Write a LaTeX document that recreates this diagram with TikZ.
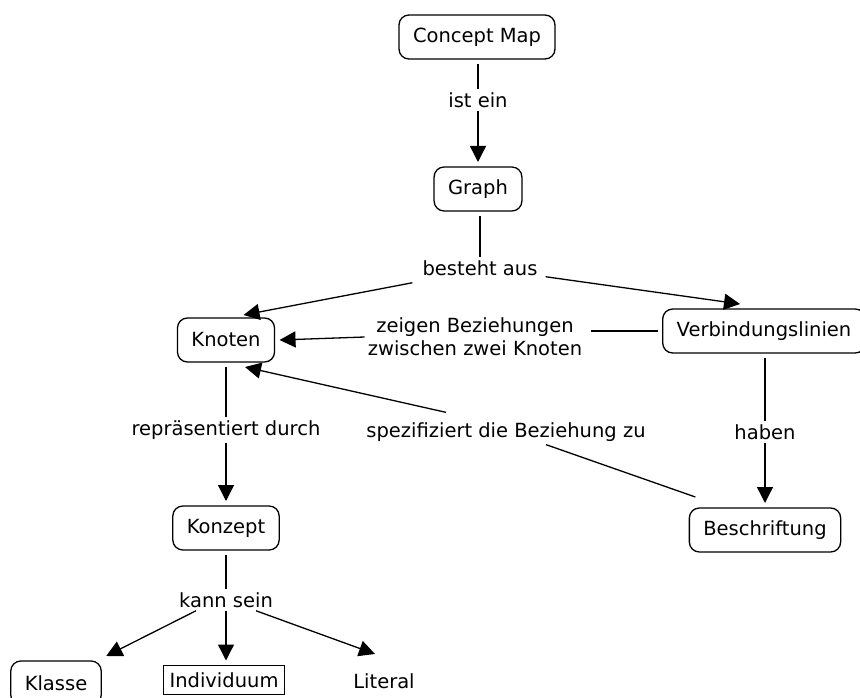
\documentclass[tikz,border=0pt]{standalone}
\usepackage{fontspec}
\setmainfont{DejaVu Sans}
\usetikzlibrary{arrows.meta}

\begin{document}
\begin{tikzpicture}[x=1pt, y=-1pt,
    every node/.style={font=\fontsize{19.5}{23}\selectfont},
    concept/.style={draw, line width=1.3pt, rounded corners=10pt, inner xsep=14pt, minimum height=44pt, outer sep=5pt},
    plainbox/.style={draw, line width=1pt, inner xsep=6pt, minimum height=29pt, outer sep=5pt},
    linkword/.style={inner sep=3pt, align=center},
    link/.style={line width=1.3pt},
    linkarrow/.style={line width=1.3pt, -{Triangle[length=16pt,width=16pt]}}]
    \useasboundingbox (0,0) rectangle (860,698);

    % Concepts
    \node[concept] (cmap) at (477,37) {Concept Map};
    \node[concept] (graph) at (478,189) {Graph};
    \node[concept] (knoten) at (226,340) {Knoten};
    \node[concept] (verb) at (764,331) {Verbindungslinien};
    \node[concept] (konzept) at (226,528) {Konzept};
    \node[concept] (beschr) at (765,530) {Beschriftung};
    \node[concept] (klasse) at (56,683) {Klasse};
    \node[plainbox] (indiv) at (224,680) {Individuum};
    \node[concept, draw=none] (literal) at (384,681) {Literal};

    % Linking words
    \node[linkword] (isteine) at (478,100) {ist ein};
    \node[linkword] (besteht) at (480,268) {besteht aus};
    \node[linkword] (zeigen) at (475,337) {zeigen Beziehungen\\zwischen zwei Knoten};
    \node[linkword] (repr) at (226,430) {repräsentiert durch};
    \node[linkword] (spez) at (506,432) {spezifiziert die Beziehung zu};
    \node[linkword] (haben) at (765,432) {haben};
    \node[linkword] (kann) at (226,600) {kann sein};

    % Concept Map -> Graph
    \draw[link] (cmap.south -| isteine) -- (isteine);
    \draw[linkarrow] (isteine) -- (graph);

    % Graph -> Knoten, Verbindungslinien
    \draw[link] (graph.south -| besteht) -- (besteht);
    \draw[linkarrow] ([xshift=-7pt,yshift=-4pt]besteht.south west) -- ([xshift=-36pt,yshift=-2pt]knoten.north east);
    \draw[linkarrow] ([xshift=5pt,yshift=2pt]besteht.south east) -- ([xshift=-24pt]verb.north);

    % Verbindungslinien -> Knoten
    \draw[link] (verb.west) -- ([xshift=6pt]zeigen.east |- verb.west);
    \draw[linkarrow] (zeigen.west) -- (knoten.east);

    % Knoten -> Konzept
    \draw[link] (knoten) -- (repr);
    \draw[linkarrow] (repr) -- (konzept);

    % Beschriftung -> Knoten
    \draw[link] ([xshift=11pt,yshift=6pt]beschr.north west) -- ([xshift=40pt]spez.south);
    \draw[linkarrow] ([xshift=-60pt,yshift=7pt]spez.north) -- ([xshift=19pt]knoten.south);

    % Verbindungslinien -> Beschriftung
    \draw[link] (verb.south -| haben) -- (haben);
    \draw[linkarrow] (haben) -- (beschr);

    % Konzept -> Klasse, Individuum, Literal
    \draw[link] (konzept) -- (kann);
    \draw[linkarrow] ([xshift=-30pt]kann.south) -- (klasse.north east);
    \draw[linkarrow] (kann.south) -- (kann.south |- indiv.north);
    \draw[linkarrow] ([xshift=30pt]kann.south) -- ([xshift=-9pt]literal.north);
\end{tikzpicture}
\end{document}
